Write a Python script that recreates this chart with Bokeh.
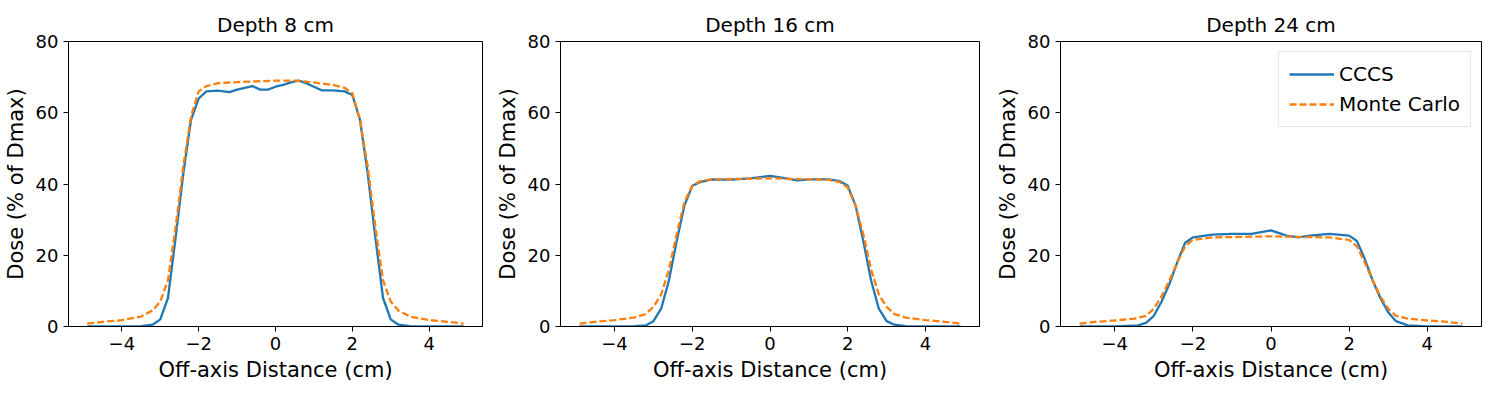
from bokeh.plotting import figure
from bokeh.layouts import row
from bokeh.models import Range1d, FixedTicker, Legend, LegendItem
from bokeh.embed import file_html
from bokeh.resources import INLINE

# Perfiles de dosis (x en cm, dosis en % de Dmax)
x1_cccs = [-4.9, -4.5, -4.0, -3.5, -3.2, -3.0, -2.8, -2.6, -2.4, -2.2, -2.0, -1.8, -1.5, -1.2, -1.0, -0.8, -0.6,
           -0.4, -0.2, 0.0, 0.2, 0.4, 0.6, 0.8, 1.0, 1.2, 1.5, 1.8, 2.0, 2.2, 2.4, 2.6, 2.8, 3.0, 3.2, 3.5, 4.0, 4.5, 4.9]
y1_cccs = [0, 0, 0, 0.1, 0.5, 2, 8, 25, 43, 58, 64, 66, 66.2, 65.8, 66.5, 67, 67.5,
           66.5, 66.5, 67.3, 67.8, 68.5, 69, 68.3, 67.3, 66.3, 66.3, 66, 65, 58, 43, 25, 8, 2, 0.5, 0.1, 0, 0, 0]
x1_mc = [-4.9, -4.5, -4.0, -3.5, -3.2, -3.0, -2.8, -2.6, -2.4, -2.2, -2.0, -1.8, -1.5, -1.0, -0.5, 0.0,
         0.5, 1.0, 1.5, 1.8, 2.0, 2.2, 2.4, 2.6, 2.8, 3.0, 3.2, 3.5, 4.0, 4.5, 4.9]
y1_mc = [0.8, 1.3, 1.8, 2.8, 4.5, 7, 13, 28, 45, 59, 66, 67.5, 68.3, 68.6, 68.8, 69,
         69, 68.5, 67.8, 67, 65.5, 58, 45, 28, 13, 7, 4.5, 2.8, 1.8, 1.3, 0.8]

x2_cccs = [-4.9, -4.0, -3.5, -3.2, -3.0, -2.8, -2.6, -2.4, -2.2, -2.0, -1.8, -1.5, -1.0, -0.5, 0.0, 0.3, 0.7,
           1.0, 1.5, 1.8, 2.0, 2.2, 2.4, 2.6, 2.8, 3.0, 3.2, 3.5, 4.0, 4.9]
y2_cccs = [0, 0, 0.1, 0.3, 1.5, 5, 13, 24, 34, 39.5, 40.5, 41.3, 41.2, 41.6, 42.3, 41.8, 41,
           41.3, 41.3, 40.8, 39.5, 34, 24, 13, 5, 1.5, 0.5, 0.1, 0, 0]
x2_mc = [-4.9, -4.5, -4.0, -3.5, -3.2, -3.0, -2.8, -2.6, -2.4, -2.2, -2.0, -1.8, -1.5, 0.0,
         1.5, 1.8, 2.0, 2.2, 2.4, 2.6, 2.8, 3.0, 3.2, 3.5, 4.0, 4.5, 4.9]
y2_mc = [0.8, 1.3, 1.8, 2.5, 3.5, 5.5, 9, 16, 26, 35, 39.5, 40.8, 41.3, 41.6,
         41.2, 40.5, 39, 34, 26, 16, 9, 5.5, 3.5, 2.5, 1.8, 1.3, 0.8]

x3_cccs = [-4.9, -4.0, -3.4, -3.2, -3.0, -2.8, -2.6, -2.4, -2.2, -2.0, -1.5, -1.0, -0.5, 0.0, 0.4, 0.7,
           1.0, 1.5, 2.0, 2.2, 2.4, 2.6, 2.8, 3.0, 3.2, 3.5, 4.0, 4.9]
y3_cccs = [0, 0, 0.3, 1, 3, 7, 12, 18, 23.5, 25, 25.8, 26, 26, 27, 25.5, 25,
           25.5, 26, 25.5, 24, 19, 13, 8, 4, 1.5, 0.3, 0.05, 0]
x3_mc = [-4.9, -4.5, -4.0, -3.5, -3.2, -3.0, -2.8, -2.6, -2.4, -2.2, -2.0, -1.5, 0.0,
         1.5, 2.0, 2.2, 2.4, 2.6, 2.8, 3.0, 3.2, 3.5, 4.0, 4.5, 4.9]
y3_mc = [0.8, 1.3, 1.7, 2.2, 3, 5, 8.5, 13, 18, 22.5, 24.3, 25, 25.3,
         25, 24.3, 22.5, 18, 13, 8.5, 5, 3, 2.2, 1.7, 1.3, 0.8]

titulos = ["Depth 8 cm", "Depth 16 cm", "Depth 24 cm"]
datos = [(x1_cccs, y1_cccs, x1_mc, y1_mc), (x2_cccs, y2_cccs, x2_mc, y2_mc), (x3_cccs, y3_cccs, x3_mc, y3_mc)]
# (ancho figura, borde izq, borde der)
marcos = [(492, 59, 10), (500, 62, 13), (492, 67, 3)]

FUENTE = "DejaVu Sans"
figuras = []
for i, (titulo, (xc, yc, xm, ym), (w, bl, br)) in enumerate(zip(titulos, datos, marcos)):
    p = figure(width=w, height=384, output_backend="svg", toolbar_location=None,
               x_range=Range1d(-5.39, 5.39), y_range=Range1d(0, 80),
               min_border_left=bl, min_border_right=br, min_border_top=41, min_border_bottom=57,
               x_axis_label="Off-axis Distance (cm)", y_axis_label="Dose (% of Dmax)")
    p.title.text = titulo
    p.title.align = "center"
    p.title.text_font = FUENTE
    p.title.text_font_size = "20px"
    p.title.text_font_style = "normal"
    p.title.text_color = "black"
    p.grid.visible = False
    p.outline_line_color = "black"
    p.xaxis.ticker = FixedTicker(ticks=[-4, -2, 0, 2, 4])
    p.yaxis.ticker = FixedTicker(ticks=[0, 20, 40, 60, 80])
    for ax in (p.xaxis[0], p.yaxis[0]):
        ax.axis_label_text_font = FUENTE
        ax.axis_label_text_font_size = "21px"
        ax.axis_label_text_font_style = "normal"
        ax.axis_label_text_color = "black"
        ax.major_label_text_font = FUENTE
        ax.major_label_text_font_size = "18px"
        ax.major_label_text_color = "black"
        ax.minor_tick_line_color = None
        ax.major_tick_out = 5
        ax.major_tick_in = 0
        ax.major_tick_line_color = "black"
        ax.axis_line_color = "black"
    r1 = p.line(xc, yc, line_color="#1f77b4", line_width=2.3)
    r2 = p.line(xm, ym, line_color="#ff7f0e", line_width=2.3, line_dash="7 3")
    if i == 2:
        ley = Legend(items=[LegendItem(label="CCCS", renderers=[r1]),
                            LegendItem(label="Monte Carlo", renderers=[r2])],
                     location="top_right")
        ley.label_text_font = FUENTE
        ley.label_text_font_size = "20px"
        ley.label_text_color = "black"
        ley.border_line_color = "#cccccc"
        ley.glyph_width = 45
        ley.spacing = 6
        ley.margin = 10
        p.add_layout(ley)
    figuras.append(p)

layout = row(*figuras, spacing=0)
open("out.html", "w").write(file_html(layout, INLINE))
